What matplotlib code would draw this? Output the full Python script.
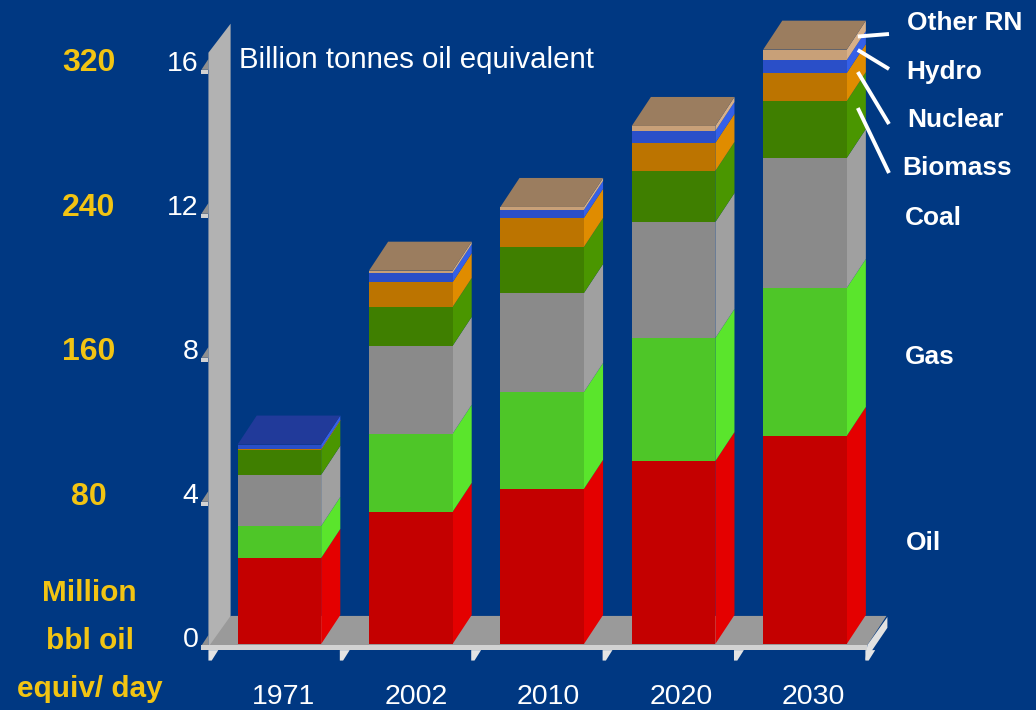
import numpy as np
import matplotlib
matplotlib.use("Agg")
import matplotlib.pyplot as plt
from matplotlib.patches import Polygon

plt.rcParams['font.family'] = ['Liberation Sans', 'DejaVu Sans']

BG = "#003882"
YELLOW = "#F2C413"

years = ["1971", "2002", "2010", "2020", "2030"]
series = ["Oil", "Gas", "Coal", "Biomass", "Nuclear", "Hydro", "Other RN"]
oil = [2.39, 3.67, 4.31, 5.08, 5.78]
gas = [0.89, 2.17, 2.69, 3.42, 4.11]
coal = [1.42, 2.44, 2.75, 3.22, 3.61]
biomass = [0.69, 1.08, 1.28, 1.42, 1.58]
nuclear = [0.03, 0.69, 0.81, 0.78, 0.78]
hydro = [0.12, 0.25, 0.22, 0.33, 0.36]
other = [0.0, 0.07, 0.08, 0.14, 0.29]
values = [oil, gas, coal, biomass, nuclear, hydro, other]

front_colors = ["#C40000", "#4EC628", "#8A8A8A", "#3F7F00", "#BC7400", "#2A4FC8", "#C8A078"]
side_colors = ["#E40000", "#5AE52C", "#A0A0A0", "#4A9600", "#E08C00", "#3560E8", "#D8B088"]
top_colors = ["#C40000", "#4EC628", "#8A8A8A", "#3F7F00", "#BC7400", "#213A9A", "#9B7D5F"]

y_ticks = [0, 4, 8, 12, 16]
bbl_ticks = [80, 160, 240, 320]
side_labels = ["Other RN", "Hydro", "Nuclear", "Biomass", "Coal", "Gas", "Oil"]

# reference is 1029 wide, scales: 130.5 px per category, 36 px per unit
REF_W, REF_H = 1029.0, 710.0
PX_X, PX_Y = 130.5, 36.0
X0, Y0 = 277.5, 644.0
W = 83 / PX_X
DX, DY = 19 / PX_X, 29 / PX_Y
LEFT = -0.54


def fx(x):
    return x / REF_W


def fy(y):
    return 1 - y / REF_H


fig = plt.figure(figsize=(10.36, 7.10), dpi=100, facecolor=BG)
ax = fig.add_axes([0, 0, 1, 1])
ax.set_xlim(-X0 / PX_X, (REF_W - X0) / PX_X)
ax.set_ylim((Y0 - REF_H) / PX_Y, Y0 / PX_Y)
ax.axis("off")


def poly(pts, color, z=1):
    ax.add_patch(Polygon(pts, closed=True, facecolor=color, edgecolor="none", linewidth=0, zorder=z))


# wall and floor
wall_dx, wall_dy = 22 / PX_X, 29 / PX_Y
wall_top = 17.23 - wall_dy
right = 4.475
poly([(LEFT, -0.08), (LEFT, wall_top), (LEFT + wall_dx, wall_top + wall_dy), (LEFT + wall_dx, -0.08)], "#B2B2B2", 1)
poly([(LEFT + 0.01, -0.03), (LEFT + wall_dx, 0.78), (right + DX, 0.78), (right, -0.03)], "#9A9A9A", 2)
poly([(LEFT - 0.054, -0.03), (right, -0.03), (right, -0.17), (LEFT - 0.054, -0.17)], "#D2D2D2", 3)
poly([(right - 0.015, -0.45), (right + DX + 0.007, 0.45), (right + DX + 0.007, 0.75), (right, -0.03)], "#E2E2E2", 3)
for i in range(len(years) + 1):
    sx = LEFT + i
    poly([(sx, -0.17), (sx, -0.46), (sx + 0.025, -0.46), (sx + 0.075, -0.17)], "#E4E4E4", 3)

# tick stubs on the wall
for v in y_ticks:
    ty = v - 0.1
    poly([(LEFT - 0.054, ty + 0.05), (LEFT, ty + 0.35), (LEFT, ty + 0.05)], "#8F8F8F", 0.5)
    if v > 0:
        poly([(LEFT - 0.054, ty + 0.05), (LEFT, ty + 0.05), (LEFT, ty - 0.07), (LEFT - 0.054, ty - 0.07)], "#D2D2D2", 3)
    ax.text(LEFT - 0.075, v + 0.1, str(v), color="white", fontsize=20.5, ha="right", va="center", zorder=5)

# stacked bars, sides first then fronts
x = np.arange(len(years))
bottom = np.zeros(len(years))
for vals, fc, sc in zip(values, front_colors, side_colors):
    vals = np.array(vals)
    top = bottom + vals
    for xi, b, t in zip(x, bottom, top):
        if t > b:
            edge = xi + W / 2
            poly([(edge, b), (edge + DX, b + DY), (edge + DX, t + DY), (edge, t)], sc, 4)
    ax.bar(x, vals, W, bottom=bottom, color=fc, linewidth=0, zorder=4)
    bottom = top

for i, t in enumerate(bottom):
    last = max(k for k in range(len(values)) if values[k][i] > 0)
    edge = i - W / 2
    poly([(edge, t), (edge + DX, t + DY), (edge + W + DX, t + DY), (edge + W, t)], top_colors[last], 4.5)

# year labels, slightly wider spaced than the bars
for xi, yr in zip(x, years):
    ax.text(xi * 1.007 + 0.035, -1.667, yr, color="white", fontsize=20.5, ha="center", va="baseline", zorder=5)

# left yellow scale
for v, b in zip(y_ticks[1:], bbl_ticks):
    fig.text(fx(88), fy(Y0 - v * PX_Y - 3 - v * 0.1), str(b), color=YELLOW, fontsize=23, fontweight="bold", ha="center", va="center")
for txt, py in zip(["Million", "bbl oil", "equiv/ day"], [593, 641, 689]):
    fig.text(fx(89), fy(py), txt, color=YELLOW, fontsize=21.4, fontweight="bold", ha="center", va="center")

fig.text(fx(237), fy(60), "Billion tonnes oil equivalent", color="white", fontsize=21.2, ha="left", va="center")

# right labels
label_pos = [(901, 23), (900, 72), (901, 120), (896, 168), (899, 218), (899, 357), (900, 543)]
for txt, (px, py) in zip(side_labels, label_pos):
    fig.text(fx(px), fy(py), txt, color="white", fontsize=18.9, fontweight="bold", ha="left", va="center")

leaders = [((852, 36.5), (883, 34)), ((852, 50), (883, 69)), ((852, 72), (883, 124)), ((852, 108), (883, 173))]
for (x1, y1), (x2, y2) in leaders:
    fig.add_artist(plt.Line2D([fx(x1), fx(x2)], [fy(y1), fy(y2)], color="white", linewidth=2.8, solid_capstyle="butt"))

fig.savefig("out.png", dpi=100, facecolor=BG)
